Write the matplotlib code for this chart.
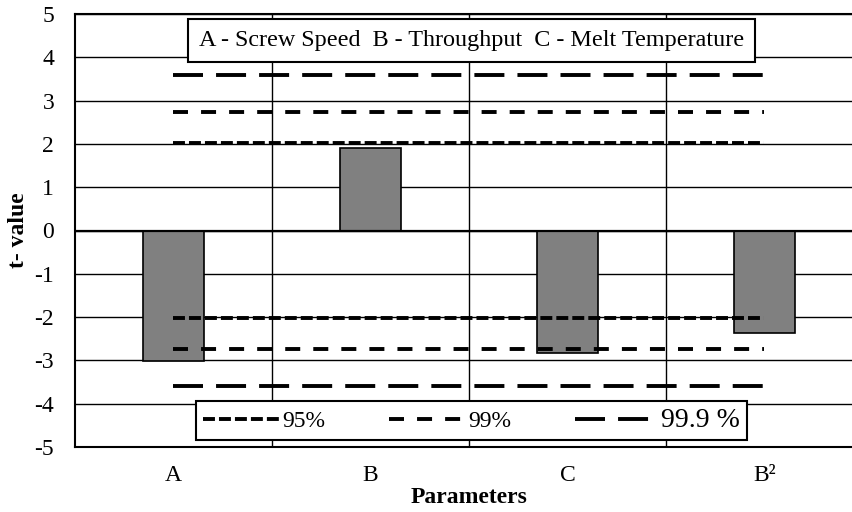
import numpy as np
import matplotlib.pyplot as plt

plt.rcParams['font.family'] = ['Liberation Serif', 'DejaVu Serif']
plt.rcParams['lines.scale_dashes'] = False
plt.rcParams['axes.unicode_minus'] = False

# data
params = ['A', 'B', 'C', 'B²']
t_values = [-3.02, 1.90, -2.82, -2.36]
levels = ['95%', '99%', ' 99.9 %']
t_crit = [2.03, 2.73, 3.60]
styles = [(0, (8.6, 2.9)), (0, (10.8, 9.4)), (0, (21.6, 9.4))]

fig = plt.figure(figsize=(8.53, 5.12), dpi=100)
ax = fig.add_axes([75 / 853, 65 / 512, 788 / 853, 433 / 512])

x = np.arange(len(params))
ax.bar(x, t_values, width=0.31, color='#808080', edgecolor='black', linewidth=1.2, zorder=2)

# critical t lines (upper and lower)
for lev, tc, ls in zip(levels, t_crit, styles):
    ax.plot([x[0], x[-1]], [tc, tc], color='black', lw=2.8, linestyle=ls, label=lev, zorder=3)
    ax.plot([x[0], x[-1]], [-tc, -tc], color='black', lw=2.8, linestyle=ls, zorder=3)

ax.axhline(0, color='black', lw=1.6, zorder=2.5)

ax.set_xlim(-0.5, len(params) - 0.5)
ax.set_ylim(-5, 5)
ax.set_yticks(np.arange(-5, 6, 1))
ax.set_xticks(x)
ax.set_xticklabels(params)
ax.set_xticks(x[:-1] + 0.5, minor=True)
ax.tick_params(axis='both', which='both', length=0, labelsize=17)
ax.tick_params(axis='y', pad=15)
ax.tick_params(axis='x', pad=13)
ax.grid(True, axis='y', which='major', color='black', lw=1.0)
ax.grid(True, axis='x', which='minor', color='black', lw=1.0)
ax.set_axisbelow(True)
for s in ['left', 'bottom', 'top']:
    ax.spines[s].set_linewidth(1.5)
ax.spines['right'].set_visible(False)

ax.set_ylabel('t- value', fontsize=17, fontweight='bold', labelpad=4)
ax.set_xlabel('Parameters', fontsize=17, fontweight='bold', labelpad=1)

ax.text(0.503, 0.938, 'A - Screw Speed  B - Throughput  C - Melt Temperature',
        transform=ax.transAxes, ha='center', va='center', fontsize=17.4, zorder=5,
        bbox=dict(boxstyle='square,pad=0.45', facecolor='white', edgecolor='black', lw=1.5))

leg = ax.legend(loc='lower center', bbox_to_anchor=(0.503, 0.016), ncol=3, fontsize=17,
                frameon=True, fancybox=False, framealpha=1, edgecolor='black',
                handlelength=3.3, handletextpad=0.05, columnspacing=2.7, borderpad=0.3,
                borderaxespad=0)
leg.get_frame().set_linewidth(1.5)
leg.get_texts()[2].set_fontsize(20)
leg.set_zorder(5)

fig.savefig('out.png', dpi=100)
